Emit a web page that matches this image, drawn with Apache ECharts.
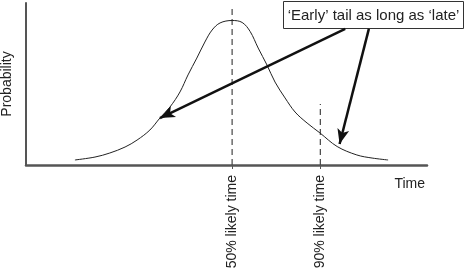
<!DOCTYPE html>
<html>
<head>
<meta charset="utf-8">
<script src="https://cdn.jsdelivr.net/npm/echarts@6/dist/echarts.min.js"></script>
<style>html,body{margin:0;padding:0;background:#fff}#c{width:466px;height:275px}</style>
</head>
<body>
<div id="c"></div>
<script>
// Curve (time, probability)
var curveTime = [12.2,17.2,20.9,24.7,27.7,30.9,33.4,35.9,38.4,40.4,42.6,44.6,46.4,48.4,51.4,53.9,55.9,57.9,60.1,62.1,64.6,67.1,70.1,73.3,77.6,82.5,86.3,90.3];
var curveProb = [3.1,4.9,7.4,11.1,15.4,21.6,29.0,35.8,45.1,55.6,66.0,75.9,83.3,87.7,89.2,88.0,82.4,72.2,61.7,51.2,41.4,32.7,25.9,19.8,11.4,6.2,4.3,3.1];
// Marker lines
var markerTimes = [51.4, 73.4];
var markerTops = [97, 37.7];
var markerLabels = ['50% likely time', '90% likely time'];
// Arrows: [fromTime, fromProb] -> [toTime, toProb]
var arrowFrom = [[79.6, 84.0], [85.5, 84.0]];
var arrowTo = [[33.4, 29.0], [78.2, 13.0]];
var calloutText = '\u2018Early\u2019 tail as long as \u2018late\u2019';
var xName = 'Time';
var yName = 'Probability';

var FONT = '"Liberation Sans", Arial, Helvetica, sans-serif';
var chart = echarts.init(document.getElementById('c'));

var series = [{
  type: 'line',
  data: curveTime.map(function (t, i) { return [t, curveProb[i]]; }),
  smooth: 0.35,
  symbol: 'none',
  lineStyle: { color: '#222', width: 1 },
  z: 3
}];
markerTimes.forEach(function (t, i) {
  series.push({
    type: 'line',
    data: [[t, 0], [t, markerTops[i]]],
    symbol: 'none',
    lineStyle: { color: '#444', width: 1.2, type: [6, 4] },
    z: 2
  });
});
series.push({
  type: 'line',
  data: [],
  markLine: {
    silent: true,
    symbol: ['none', 'arrow'],
    symbolSize: [9, 15],
    label: { show: false },
    lineStyle: { color: '#111', width: 2.5, type: 'solid' },
    data: arrowFrom.map(function (f, i) {
      return [{ coord: f }, { coord: arrowTo[i] }];
    })
  },
  z: 4
});

chart.setOption({
  animation: false,
  backgroundColor: '#fff',
  grid: { left: 26, right: 39, top: 3, bottom: 110, containLabel: false, outerBoundsMode: 'none' },
  xAxis: {
    type: 'value', min: 0, max: 100,
    name: xName, nameLocation: 'end', nameGap: 0,
    nameTextStyle: { fontFamily: FONT, fontSize: 14, color: '#222', align: 'right', verticalAlign: 'top', padding: [12, 2, 0, 0] },
    axisLine: { show: true, lineStyle: { color: '#555', width: 2.5 } },
    axisTick: { show: true, customValues: markerTimes, length: 4, lineStyle: { color: '#555', width: 1 } },
    axisLabel: {
      show: true, customValues: markerTimes, rotate: 90, margin: 10,
      fontFamily: FONT, fontSize: 14, color: '#222',
      formatter: function (v) {
        var idx = -1;
        markerTimes.forEach(function (t, i) { if (Math.abs(t - v) < 0.01) idx = i; });
        return idx >= 0 ? markerLabels[idx] : '';
      }
    },
    splitLine: { show: false }
  },
  yAxis: {
    type: 'value', min: 0, max: 100,
    name: yName, nameLocation: 'middle', nameGap: 12, nameRotate: 90,
    nameTextStyle: { fontFamily: FONT, fontSize: 14, color: '#222' },
    axisLine: { show: true, lineStyle: { color: '#555', width: 2 } },
    axisTick: { show: false },
    axisLabel: { show: false },
    splitLine: { show: false }
  },
  graphic: [{
    type: 'group', left: 283, top: 1, z: 10,
    children: [
      { type: 'rect', shape: { x: 0.5, y: 0.5, width: 180, height: 27 }, style: { fill: '#fff', stroke: '#333', lineWidth: 1 } },
      { type: 'text', x: 90.5, y: 14.5, style: { text: calloutText, font: '15px ' + FONT, fill: '#222', align: 'center', verticalAlign: 'middle' } }
    ]
  }],
  series: series
});
</script>
</body>
</html>
